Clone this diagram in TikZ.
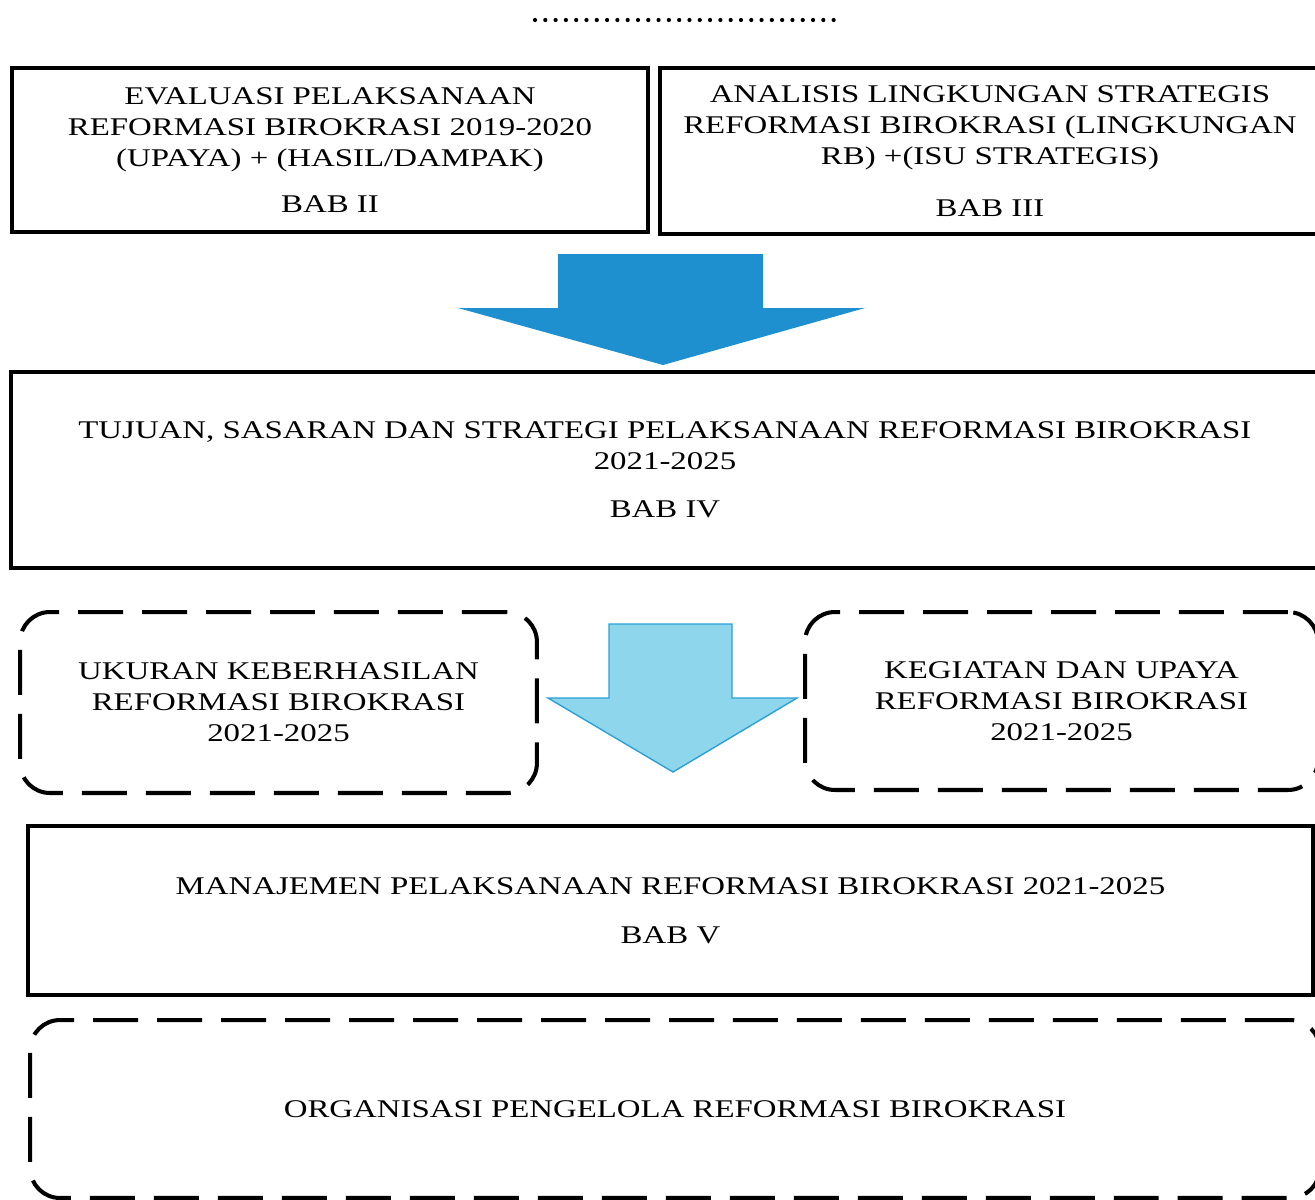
\documentclass[tikz,border=0pt]{standalone}
\usepackage{fontspec}
\setmainfont[FakeStretch=1.29]{Liberation Serif}
\usetikzlibrary{positioning}
\definecolor{panahbiru}{RGB}{30,144,208}
\definecolor{panahmuda}{RGB}{142,214,236}
\definecolor{garispanah}{RGB}{45,160,212}

\begin{document}
\begin{tikzpicture}[x=0.02cm,y=-0.02cm,
    kotak/.style={draw, line width=2.3pt, inner sep=0pt, outer sep=0pt, align=center,
      font=\fontsize{14.5}{17.6}\selectfont},
    kotakputus/.style={kotak, rounded corners=0.6cm, dash pattern=on 0.9cm off 0.38cm}]
  \useasboundingbox (0,0) rectangle (1315,1200);

  %garis titik
  \draw[line width=2.4pt, line cap=round, dash pattern=on 0pt off 0.206cm] (535,20) -- (838,20);

  %bab II dan bab III
  \node[kotak, minimum width=12.72cm, minimum height=3.28cm] (evaluasi) at (330,150)
    {EVALUASI PELAKSANAAN\\REFORMASI BIROKRASI 2019-2020\\(UPAYA) + (HASIL/DAMPAK)\\[0.3cm]BAB II};
  \node[kotak, minimum width=13.2cm, minimum height=3.32cm] (analisis) at (990,151)
    {ANALISIS LINGKUNGAN STRATEGIS\\REFORMASI BIROKRASI (LINGKUNGAN\\RB) +(ISU STRATEGIS)\\[0.42cm]BAB III};

  %panah besar
  \fill[panahbiru] (558,254) -- (763,254) -- (763,308) -- (865,308) -- (663,365)
    -- (458,308) -- (558,308) -- cycle;

  \node[kotak, minimum width=26.16cm, minimum height=3.92cm] (tujuan) at (665,470)
    {TUJUAN, SASARAN DAN STRATEGI PELAKSANAAN REFORMASI BIROKRASI\\2021-2025\\[0.34cm]BAB IV};

  %kotak putus-putus
  \node[kotakputus, minimum width=10.34cm, minimum height=3.62cm] (ukuran) at (278.5,702.5)
    {UKURAN KEBERHASILAN\\REFORMASI BIROKRASI\\2021-2025};
  \node[kotakputus, minimum width=10.26cm, minimum height=3.56cm] (kegiatan) at (1061.5,701)
    {KEGIATAN DAN UPAYA\\REFORMASI BIROKRASI\\2021-2025};

  %panah muda
  \filldraw[fill=panahmuda, draw=garispanah, line width=0.8pt] (609,624) -- (732,624)
    -- (732,698) -- (797,698) -- (673,772) -- (548,698) -- (609,698) -- cycle;

  \node[kotak, minimum width=25.7cm, minimum height=3.38cm] (manajemen) at (670.5,910.5)
    {MANAJEMEN PELAKSANAAN REFORMASI BIROKRASI 2021-2025\\[0.36cm]BAB V};

  \node[kotakputus, minimum width=25.8cm, minimum height=3.56cm] (organisasi) at (675,1109)
    {ORGANISASI PENGELOLA REFORMASI BIROKRASI};
\end{tikzpicture}
\end{document}
